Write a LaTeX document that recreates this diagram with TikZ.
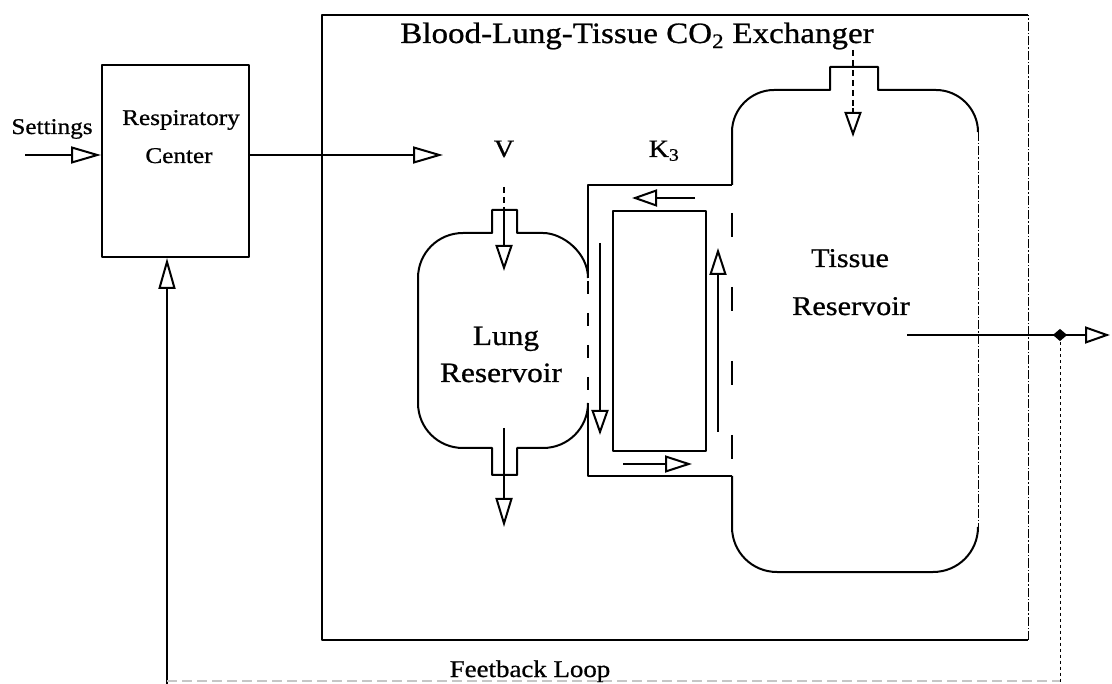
\documentclass[tikz,border=0pt]{standalone}
\usepackage{fontspec}
\setmainfont{Liberation Serif}[FakeStretch=1.12,FakeBold=0.8]
\usetikzlibrary{arrows.meta,shapes.geometric}
\begin{document}
\begin{tikzpicture}[x=1pt,y=-1pt,line width=2pt,line join=round,
  oarr/.style={-{Triangle[open,length=#1,width=17pt]}},
  oarr/.default=27pt,
  lbl/.style={inner sep=0pt,anchor=base},
  thin dash/.style={line width=1pt,dash pattern=on 9pt off 2pt on 1.5pt off 2pt},
  box/.style={draw,inner sep=0pt}]
\useasboundingbox (0,0) rectangle (1112,684);

% ---------- Respiratory center ----------
\node[box,minimum width=147pt,minimum height=192pt] (rc) at (175.5,161) {};
\node[lbl,font=\fontsize{22.5}{24}\selectfont] (rc1) at (181,125) {Respiratory};
\node[lbl,font=\fontsize{22.5}{24}\selectfont] (rc2) at (179,163) {Center};
\node[lbl,font=\fontsize{22.5}{24}\selectfont] (set) at (52,134) {Settings};

\coordinate (sin) at (25,155);
\draw[oarr=30pt] (sin) -- (sin -| rc.west);
\coordinate (vout) at (443,155);
\draw[oarr=30pt] (vout -| rc.east) -- (vout);
\coordinate (fb) at (167,684);
\draw[oarr=31pt] (fb) -- (fb |- rc.south);

% ---------- Exchanger box ----------
\coordinate (ex1) at (322,15);
\coordinate (ex2) at (1028,640);
\draw (ex2 |- ex1) -- (ex1) -- (ex1 |- ex2) -- (ex2);
\draw[thin dash] (ex2) -- (ex2 |- ex1);
\node[lbl,font=\fontsize{29.5}{31}\selectfont] (title) at (637,43) {Blood-Lung-Tissue CO\textsubscript{2} Exchanger};
\node[lbl,font=\fontsize{25}{26}\selectfont] (vl) at (504,157) {V};
\node[lbl,font=\fontsize{25}{26}\selectfont] (kl) at (664,157) {K\textsubscript{3}};

% ---------- Lung reservoir ----------
\draw (588,278) .. controls (588,253) and (563,233) .. (543,233) -- (517,233) -- (517,210) -- (492,210) -- (492,233) -- (463,233)
  .. controls (438,233) and (418,253) .. (418,278) -- (418,403)
  .. controls (418,428) and (438,448) .. (463,448) -- (492,448) -- (492,475) -- (517,475) -- (517,448) -- (543,448)
  .. controls (568,448) and (588,428) .. (588,403);
\node[lbl,font=\fontsize{28}{30}\selectfont] (lung1) at (506,345) {Lung};
\node[lbl,font=\fontsize{28}{30}\selectfont] (lung2) at (501,382) {Reservoir};

% ---------- Channel ----------
\coordinate (chtl) at (588,185);
\coordinate (chbr) at (732,476);
\draw (588,278) -- (chtl) -- (chtl -| chbr);
\draw (588,403) -- (chtl |- chbr) -- (chbr);
\draw[dash pattern=on 13pt off 19pt,dash phase=29pt] (588,278) -- (588,403);
\draw[dash pattern=on 24pt off 50pt,dash phase=46pt] (chtl -| chbr) -- (chbr);
\node[box,minimum width=93pt,minimum height=240pt] (blood) at (659.5,331) {};

% ---------- Tissue reservoir ----------
\draw (chtl -| chbr) -- (732,132) .. controls (732,109) and (751,90) .. (774,90) -- (830,90) -- (830,67) -- (878,67) -- (878,90) -- (936,90)
  .. controls (959,90) and (978,109) .. (978,132);
\draw[thin dash] (978,132) -- (978,527);
\draw (978,527) .. controls (978,552) and (958,572) .. (933,572) -- (777,572)
  .. controls (752,572) and (732,552) .. (732,527) -- (chbr);
\node[lbl,font=\fontsize{27}{29}\selectfont] (tis1) at (850,267) {Tissue};
\node[lbl,font=\fontsize{27}{29}\selectfont] (tis2) at (851,315) {Reservoir};

% ---------- Flow arrows ----------
\coordinate (la0) at (504,187);
\coordinate (la1) at (504,210);
\coordinate (la2) at (504,271);
\draw[dash pattern=on 6pt off 4pt,line width=1.3pt] (la0) -- (la1);
\draw[oarr=26pt] (la1) -- (la2);
\coordinate (lb1) at (504,428);
\coordinate (lb2) at (504,527);
\draw[oarr=29pt] (lb1) -- (lb2);
\coordinate (ta1) at (853,50);
\coordinate (ta2) at (853,137);
\draw[dash pattern=on 6pt off 4pt,line width=1.3pt] (ta1) -- (853,112);
\draw[oarr=25pt] (853,108) -- (ta2);

\coordinate (c1a) at (695,198); \coordinate (c1b) at (632,198);
\draw[oarr=25pt] (c1a) -- (c1b);
\coordinate (c2a) at (600,243); \coordinate (c2b) at (600,435);
\draw[oarr=25pt] (c2a) -- (c2b);
\coordinate (c3a) at (623,464); \coordinate (c3b) at (692,464);
\draw[oarr=27pt] (c3a) -- (c3b);
\coordinate (c4a) at (718,432); \coordinate (c4b) at (718,248);
\draw[oarr=27pt] (c4a) -- (c4b);

% ---------- Output and feedback ----------
\node[diamond,fill,inner sep=0pt,minimum width=15pt,minimum height=13pt] (dj) at (1060,335) {};
\coordinate (oa) at (907,335);
\coordinate (ob) at (1110,335);
\draw[oarr=25pt] (oa) -- (ob);
\coordinate (fbr) at (1060,684);
\draw[line width=1pt,dash pattern=on 3pt off 3pt] (dj) -- (fbr);
\draw[gray!45,line width=1.2pt,dash pattern=on 10pt off 5pt] (fb |- 0,681) -- (1060,681);
\node[lbl,font=\fontsize{24}{26}\selectfont] (fbl) at (530,677) {Feetback Loop};
\end{tikzpicture}
\end{document}
